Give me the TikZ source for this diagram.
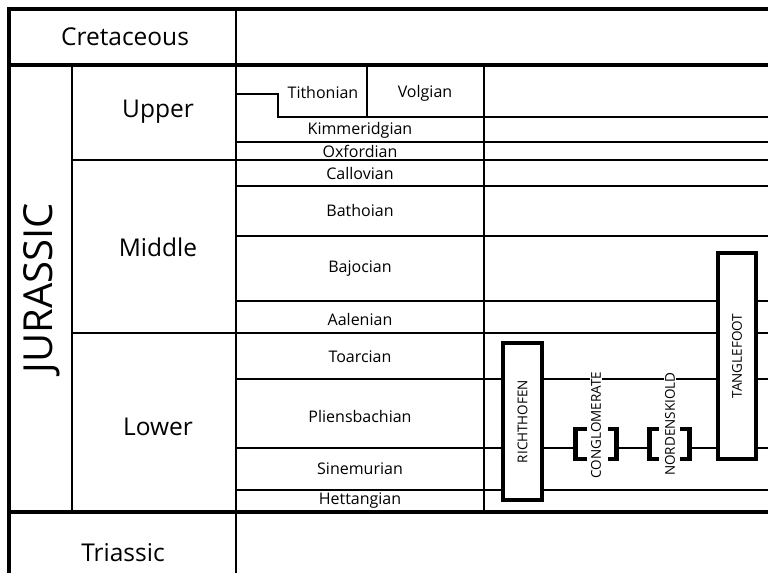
\documentclass[tikz,border=0pt]{standalone}
\usepackage{fontspec}
\setmainfont{Open Sans}
\begin{document}
\begin{tikzpicture}[x=1pt,y=-1pt,
  thinrule/.style={line width=1.9pt},
  thickrule/.style={line width=4pt},
  eralabel/.style={font=\fontsize{24.5}{28}\selectfont, inner sep=0pt},
  periodlabel/.style={font=\fontsize{40}{44}\selectfont, inner sep=0pt, rotate=90},
  stagelabel/.style={font=\fontsize{16}{18}\selectfont, inner sep=0pt},
  unitbox/.style={draw, line width=3.6pt, fill=white, rotate=90, inner sep=0pt,
    font=\fontsize{13.5}{15}\selectfont},
  vlabel/.style={rotate=90, fill=white, inner sep=1.2pt, font=\fontsize{13.5}{15}\selectfont},
  bracketline/.style={line width=4.6pt, line join=miter}
]
\useasboundingbox (0,0) rectangle (768,573);

% thin grid lines
\draw[thinrule] (236,9) -- (236,573);
\draw[thinrule] (72,65) -- (72,512);
\draw[thinrule] (484,65) -- (484,512);
\draw[thinrule] (367,65) -- (367,117);
\draw[thinrule] (236,94) -- (278,94) -- (278,117) -- (768,117);
\draw[thinrule] (236,142) -- (768,142);
\draw[thinrule] (72,160) -- (768,160);
\draw[thinrule] (236,186) -- (768,186);
\draw[thinrule] (236,236) -- (768,236);
\draw[thinrule] (236,301) -- (768,301);
\draw[thinrule] (72,333) -- (768,333);
\draw[thinrule] (236,379) -- (768,379);
\draw[thinrule] (236,448) -- (575.5,448);
\draw[thinrule] (616.5,448) -- (649.5,448);
\draw[thinrule] (689.5,448) -- (768,448);
\draw[thinrule] (236,490) -- (768,490);

% thick lines
\draw[thickrule, line join=miter] (768,9) -- (9,9) -- (9,573);
\draw[thickrule] (9,65) -- (768,65);
\draw[thickrule] (9,512) -- (768,512);

% era / period / epoch labels
\node[eralabel] (cretaceous) at (125,37) {Cretaceous};
\node[eralabel] (triassic) at (123,553) {Triassic};
\node[periodlabel] (jurassic) at (42,288) {JURASSIC};
\node[eralabel] (upper) at (158,112) {Upper};
\node[eralabel] (middle) at (158,247) {Middle};
\node[eralabel] (lower) at (158,427) {Lower};

% stage labels
\node[stagelabel] (tithonian) at (323,92) {Tithonian};
\node[stagelabel] (volgian) at (425,93) {Volgian};
\node[stagelabel] (kimmeridgian) at (360,130) {Kimmeridgian};
\node[stagelabel] (oxfordian) at (360,151) {Oxfordian};
\node[stagelabel] (callovian) at (360,173) {Callovian};
\node[stagelabel] (bathoian) at (360,210) {Bathoian};
\node[stagelabel] (bajocian) at (360,269) {Bajocian};
\node[stagelabel] (aalenian) at (360,319) {Aalenian};
\node[stagelabel] (toarcian) at (360,357) {Toarcian};
\node[stagelabel] (pliensbachian) at (360,416) {Pliensbachian};
\node[stagelabel] (sinemurian) at (360,469) {Sinemurian};
\node[stagelabel] (hettangian) at (360,501) {Hettangian};

% formation boxes
\node[unitbox, minimum width=157pt, minimum height=39pt] (richthofen) at (522.5,421.5) {RICHTHOFEN};
\node[unitbox, minimum width=206.5pt, minimum height=38pt] (tanglefoot) at (737,356) {TANGLEFOOT};

% bracketed units
\node[vlabel] (conglomerate) at (596,425) {CONGLOMERATE};
\node[vlabel] (nordenskiold) at (670,424) {NORDENSKIOLD};
\draw[bracketline] (587,429) -- (575.5,429) -- (575.5,459) -- (587,459);
\draw[bracketline] (608,429) -- (616.5,429) -- (616.5,459) -- (608,459);
\draw[bracketline] (658.5,429) -- (649.5,429) -- (649.5,459) -- (658.5,459);
\draw[bracketline] (680,429) -- (689.5,429) -- (689.5,459) -- (680,459);
\end{tikzpicture}
\end{document}
